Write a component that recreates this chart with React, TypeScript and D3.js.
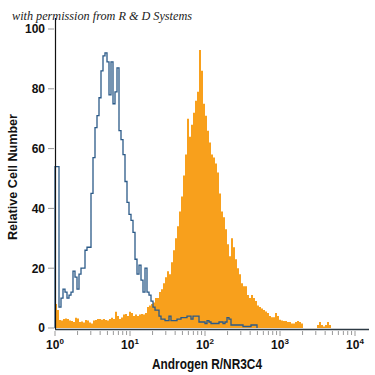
import React from "react";
import * as d3 from "d3";

// Histogram counts, 150 log-spaced bins from 10^0 to 10^4
const isotypeCounts: number[] = [
  54, 54, 7, 10, 13, 12, 10, 11, 12, 19,
  17, 13, 18, 20, 20, 26, 27, 27, 45, 57,
  67, 71, 77, 86, 91, 92, 89, 78, 89, 75,
  79, 87, 66, 63, 58, 49, 42, 38, 36, 32,
  23, 18, 21, 16, 12, 20, 12, 11, 9, 7,
  6, 6, 4, 3, 3, 2.5, 2.5, 4, 2.5, 2.5,
  2.5, 3, 3, 3.5, 3.5, 3.5, 4, 4, 3, 4,
  4, 4, 2, 2, 2, 1.5, 2.5, 2, 1.5, 1.5,
  1.5, 1.5, 2, 2, 1.5, 2, 3.5, 3, 1, 1,
  1, 1, 1, 1, 0.5, 0.5, 0.5, 0.5, 1, 1,
  1,
];

const stainedCounts: number[] = [
  8, 6, 2.7, 2.5, 3, 3.2, 3, 2.5, 2.3, 2,
  3.4, 3.2, 2, 2.2, 1.8, 2.7, 2.5, 1.8, 1.5, 2.5,
  2.7, 3, 3, 2.8, 3, 2.7, 2.5, 3, 3.4, 3,
  5.4, 4, 3, 3.5, 4.5, 4.7, 4, 5.4, 5, 4,
  4.5, 4, 4.5, 4.7, 4.5, 5, 7, 7.5, 8, 8.5,
  10, 10, 12, 13, 15, 17, 19, 18, 22, 26,
  30, 34, 39, 44, 51, 58, 70, 64, 68, 72,
  76, 79, 93, 86, 75, 71, 66, 62, 58, 57,
  55, 52, 45, 39, 37, 33, 28, 24, 30, 27,
  23, 20, 18, 15, 14, 14, 11, 10, 11, 10,
  9, 7.5, 7, 6.5, 6, 5.5, 5, 4, 3.6, 3.6,
  5, 4, 2.8, 2.5, 2.3, 2.3, 2, 2, 1.5, 1.5,
  2, 2.3, 2, 1.5, 0, 0, 0, 0, 0, 0,
  0, 1, 2, 1, 0.5, 1, 2, 1, 0, 0,
];

const binCount = 150;
const yTicks = [0, 20, 40, 60, 80, 100];
const xDecades = [0, 1, 2, 3, 4];
const title = "with permission from R & D Systems";
const xTitle = "Androgen R/NR3C4";
const yTitle = "Relative Cell Number";

export default function App() {
  const x = d3.scaleLog().domain([1, 1e4]).range([55, 355]);
  const y = d3.scaleLinear().domain([0, 100]).range([328, 29]);
  const edge = (i: number) => Math.pow(10, (4 * i) / binCount);

  const toPoints = (counts: number[]) => {
    const pts: [number, number][] = [[x(edge(0)), y(0)]];
    counts.forEach((c, i) => pts.push([x(edge(i)), y(c)]));
    pts.push([x(edge(counts.length)), y(0)]);
    return pts;
  };

  const area = d3
    .area<[number, number]>()
    .x((d) => d[0])
    .y0(y(0))
    .y1((d) => d[1])
    .curve(d3.curveStepAfter);
  const line = d3
    .line<[number, number]>()
    .x((d) => d[0])
    .y((d) => d[1])
    .curve(d3.curveStepAfter);

  const minorTicks: number[] = [];
  for (let dcd = 0; dcd < 4; dcd++)
    for (let m = 2; m <= 9; m++) minorTicks.push(m * Math.pow(10, dcd));

  const labelFont = "'Liberation Sans Narrow', 'Liberation Sans', Arial, sans-serif";

  return (
    <svg
      width={375}
      height={375}
      style={{ position: "absolute", left: 0, top: 0, background: "#fff" }}
    >
      <path d={area(toPoints(stainedCounts)) || ""} fill="#F8A01C" />
      <path
        d={line(toPoints(isotypeCounts)) || ""}
        fill="none"
        stroke="#2B5A88"
        strokeWidth={1.3}
      />
      {/* y axis */}
      <line x1={55.5} x2={55.5} y1={18} y2={329} stroke="#111" strokeWidth={1.2} />
      {yTicks.map((t) => (
        <g key={t}>
          <line x1={48} x2={54} y1={y(t)} y2={y(t)} stroke="#999" strokeWidth={1} />
          <text
            x={45}
            y={y(t)}
            dy="0.36em"
            textAnchor="end"
            fontFamily={labelFont}
            fontWeight="bold"
            fontSize={12}
            fill="#111"
          >
            {t}
          </text>
        </g>
      ))}
      {/* x axis */}
      <line x1={55} x2={369} y1={329.5} y2={329.5} stroke="#2d3a44" strokeWidth={1.5} />
      {minorTicks.map((t) => (
        <line key={t} x1={x(t)} x2={x(t)} y1={331} y2={335} stroke="#999" strokeWidth={1} />
      ))}
      {xDecades.map((p) => (
        <g key={p}>
          <line
            x1={x(Math.pow(10, p))}
            x2={x(Math.pow(10, p))}
            y1={331}
            y2={336}
            stroke="#999"
            strokeWidth={1}
          />
          <text
            x={x(Math.pow(10, p))}
            y={349}
            textAnchor="middle"
            fontFamily={labelFont}
            fontWeight="bold"
            fontSize={12}
            fill="#111"
          >
            10
            <tspan dy={-5} fontSize={8}>
              {p}
            </tspan>
          </text>
        </g>
      ))}
      <text
        x={207}
        y={369}
        textAnchor="middle"
        fontFamily={labelFont}
        fontWeight="bold"
        fontSize={14.5}
        textLength={110}
        lengthAdjust="spacingAndGlyphs"
        fill="#111"
      >
        {xTitle}
      </text>
      <text
        transform="translate(17,177) rotate(-90)"
        textAnchor="middle"
        fontFamily={labelFont}
        fontWeight="bold"
        fontSize={13}
        textLength={126}
        lengthAdjust="spacingAndGlyphs"
        fill="#111"
      >
        {yTitle}
      </text>
      <text
        x={12}
        y={20}
        fontFamily="'Liberation Serif', 'DejaVu Serif', serif"
        fontStyle="italic"
        fontSize={13}
        textLength={180}
        lengthAdjust="spacingAndGlyphs"
        fill="#222"
      >
        {title}
      </text>
    </svg>
  );
}
